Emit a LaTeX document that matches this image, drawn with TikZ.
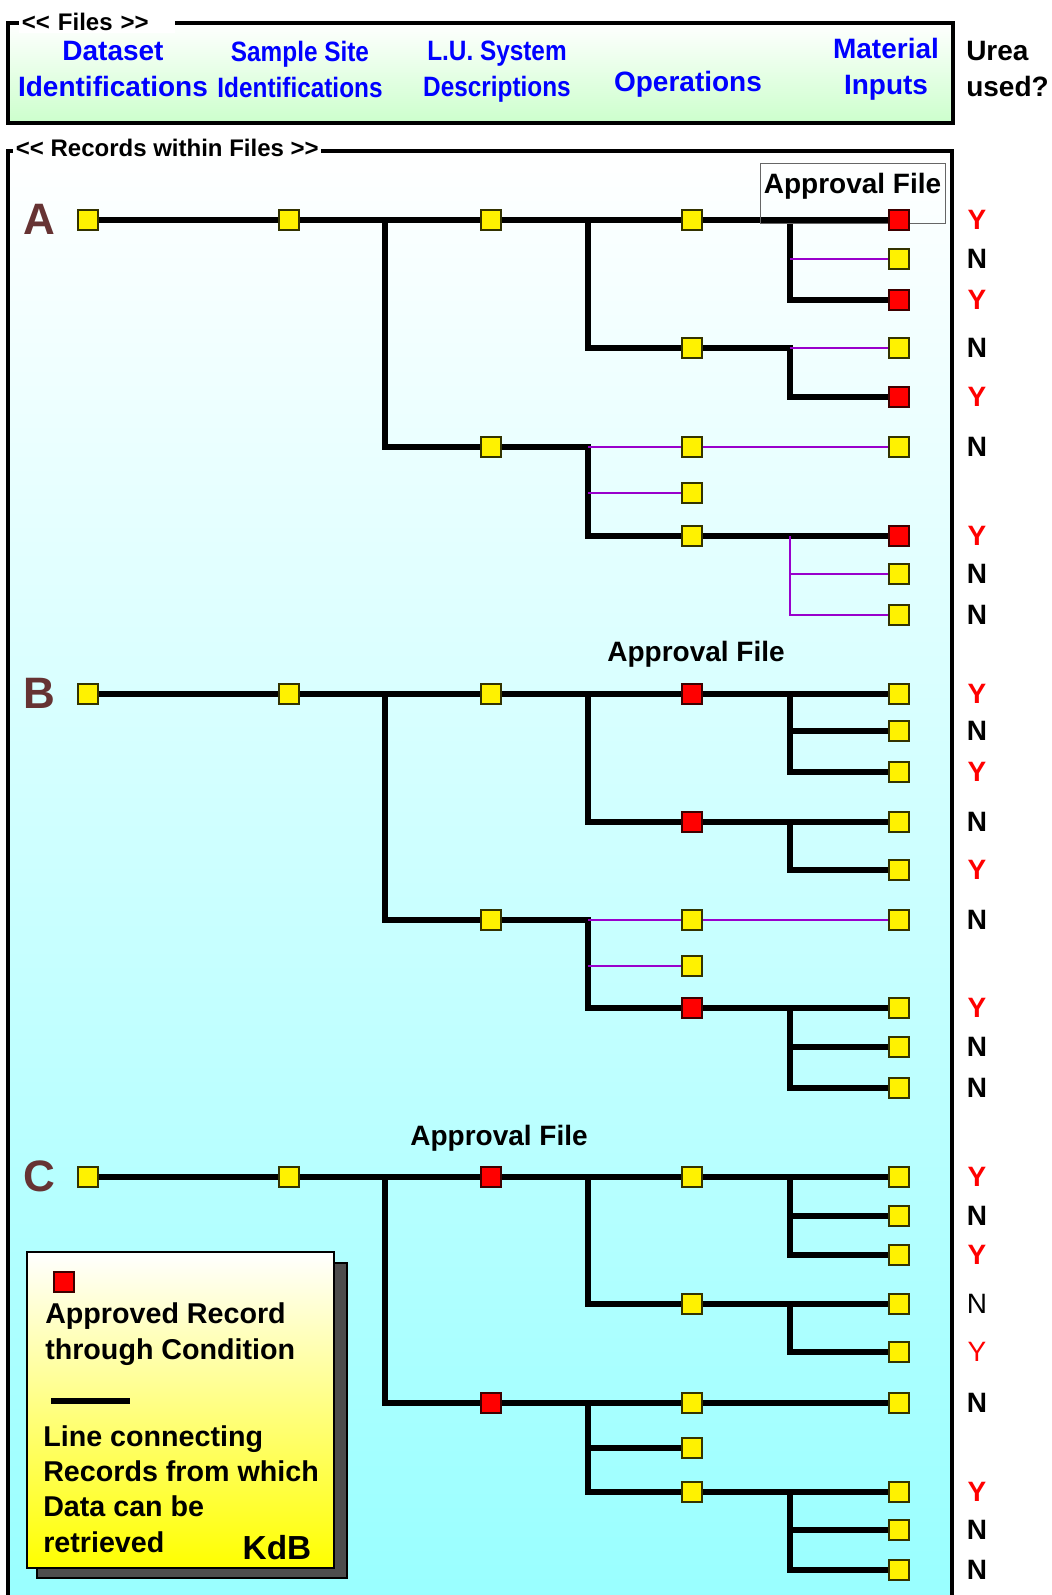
\documentclass[tikz,border=0pt]{standalone}
\usepackage{fontspec}
\setmainfont{Liberation Sans}
\newfontfamily\narrowfont[FakeStretch=0.87]{Liberation Sans}
\usetikzlibrary{backgrounds}
\definecolor{headblue}{RGB}{0,0,255}
\definecolor{filegreen}{RGB}{204,255,204}
\definecolor{reccyan}{RGB}{153,255,255}
\definecolor{letterbrown}{RGB}{102,51,51}
\definecolor{weakpurple}{RGB}{153,0,204}
\definecolor{shadowgray}{RGB}{77,77,77}
\definecolor{yelborder}{RGB}{51,51,0}
\definecolor{redborder}{RGB}{60,0,0}
\tikzstyle{rec}=[draw=yelborder,fill=yellow,line width=1pt,inner sep=0pt,minimum size=15pt]
\tikzstyle{apprec}=[rec,draw=redborder,fill=red]
\tikzstyle{link}=[line width=5.2pt]
\tikzstyle{weak}=[weakpurple,line width=1.5pt]
\tikzstyle{filehead}=[headblue,font=\fontsize{21}{27}\selectfont\bfseries,align=center]
\tikzstyle{narrowhead}=[filehead,font=\narrowfont\fontsize{21}{27}\selectfont\bfseries]
\tikzstyle{boxlabel}=[fill=white,inner sep=2pt,font=\fontsize{18}{20}\selectfont\bfseries]
\tikzstyle{letter}=[letterbrown,font=\fontsize{33}{36}\selectfont\bfseries]
\tikzstyle{apptext}=[font=\fontsize{21}{25}\selectfont\bfseries]
\tikzstyle{yesmark}=[red,font=\fontsize{21}{25}\selectfont\bfseries]
\tikzstyle{nomark}=[font=\fontsize{21}{25}\selectfont\bfseries]
\tikzstyle{keytext}=[align=left,inner sep=0pt,font=\fontsize{21.5}{26.5}\selectfont\bfseries]
\newcommand{\lt}{\textless\kern0pt\textless}
\newcommand{\gt}{\textgreater\kern0pt\textgreater}

\begin{document}
\begin{tikzpicture}[x=0.75pt,y=-0.75pt]
        \useasboundingbox (0,0) rectangle (1051,1595);
        \coordinate (xa) at (385,0);
        \coordinate (xb) at (588,0);
        \coordinate (xc) at (790,0);
        \coordinate (ucol) at (977,0);

        % the two boxes
        \begin{scope}[on background layer]
          \shade[top color=white,bottom color=filegreen] (8,23) rectangle (953,123);
          \draw[line width=3pt] (8,23) rectangle (953,123);
          \shade[top color=white,bottom color=reccyan] (8,151) rectangle (952,1600);
          \draw[line width=3.5pt] (8,1600) -- (8,151) -- (952,151) -- (952,1600);
        \end{scope}

        \node[boxlabel,anchor=west,text width=113pt,align=left] (fileslabel) at (19,22) {\lt\ Files \gt};
        \node[boxlabel,anchor=west] (reclabel) at (13,148) {\lt\ Records within Files \gt};

        \node[filehead] (dataset) at (113,69) {Dataset\\Identifications};
        \node[narrowhead] (site) at (300,69) {Sample Site\\Identifications};
        \node[narrowhead] (lusys) at (497,72) {L.U. System\\Descriptions};
        \node[filehead] (oper) at (688,84) {Operations};
        \node[filehead] (matin) at (886,69) {Material\\Inputs};
        \node[filehead,black,align=left,anchor=west,inner xsep=0pt] (urea) at (966,69) {Urea\\used?};

        \node[letter] (secA) at (39,219) {A};
        \node[letter] (secB) at (39,693) {B};
        \node[letter] (secC) at (39,1176) {C};

        \node[apptext,draw=gray!80!black,thin,inner xsep=3pt,inner ysep=0pt,text height=22.5pt,text depth=23pt,anchor=base] (apprA) at (852.5,193) {Approval File};
        \node[apptext] (apprB) at (696,654) {Approval File};
        \node[apptext] (apprC) at (499,1138) {Approval File};

        % section A
        \node[rec] (a1c1) at (88,220) {};
        \node[rec] (a1c2) at (289,220) {};
        \node[rec] (a1c3) at (491,220) {};
        \node[rec] (a1c4) at (692,220) {};
        \node[apprec] (a1c5) at (899,220) {};
        \node[rec] (a2c5) at (899,259) {};
        \node[apprec] (a3c5) at (899,300) {};
        \node[rec] (a4c4) at (692,348) {};
        \node[rec] (a4c5) at (899,348) {};
        \node[apprec] (a5c5) at (899,397) {};
        \node[rec] (a6c3) at (491,447) {};
        \node[rec] (a6c4) at (692,447) {};
        \node[rec] (a6c5) at (899,447) {};
        \node[rec] (a7c4) at (692,493) {};
        \node[rec] (a8c4) at (692,536) {};
        \node[apprec] (a8c5) at (899,536) {};
        \node[rec] (a9c5) at (899,574) {};
        \node[rec] (a10c5) at (899,615) {};

        % section B
        \node[rec] (b1c1) at (88,694) {};
        \node[rec] (b1c2) at (289,694) {};
        \node[rec] (b1c3) at (491,694) {};
        \node[apprec] (b1c4) at (692,694) {};
        \node[rec] (b1c5) at (899,694) {};
        \node[rec] (b2c5) at (899,731) {};
        \node[rec] (b3c5) at (899,772) {};
        \node[apprec] (b4c4) at (692,822) {};
        \node[rec] (b4c5) at (899,822) {};
        \node[rec] (b5c5) at (899,870) {};
        \node[rec] (b6c3) at (491,920) {};
        \node[rec] (b6c4) at (692,920) {};
        \node[rec] (b6c5) at (899,920) {};
        \node[rec] (b7c4) at (692,966) {};
        \node[apprec] (b8c4) at (692,1008) {};
        \node[rec] (b8c5) at (899,1008) {};
        \node[rec] (b9c5) at (899,1047) {};
        \node[rec] (b10c5) at (899,1088) {};

        % section C
        \node[rec] (c1c1) at (88,1177) {};
        \node[rec] (c1c2) at (289,1177) {};
        \node[apprec] (c1c3) at (491,1177) {};
        \node[rec] (c1c4) at (692,1177) {};
        \node[rec] (c1c5) at (899,1177) {};
        \node[rec] (c2c5) at (899,1216) {};
        \node[rec] (c3c5) at (899,1255) {};
        \node[rec] (c4c4) at (692,1304) {};
        \node[rec] (c4c5) at (899,1304) {};
        \node[rec] (c5c5) at (899,1352) {};
        \node[apprec] (c6c3) at (491,1403) {};
        \node[rec] (c6c4) at (692,1403) {};
        \node[rec] (c6c5) at (899,1403) {};
        \node[rec] (c7c4) at (692,1448) {};
        \node[rec] (c8c4) at (692,1492) {};
        \node[rec] (c8c5) at (899,1492) {};
        \node[rec] (c9c5) at (899,1530) {};
        \node[rec] (c10c5) at (899,1570) {};

        % urea used?
        \node[yesmark] (ua1) at (a1c5 -| ucol) {Y};
        \node[nomark] (ua2) at (a2c5 -| ucol) {N};
        \node[yesmark] (ua3) at (a3c5 -| ucol) {Y};
        \node[nomark] (ua4) at (a4c5 -| ucol) {N};
        \node[yesmark] (ua5) at (a5c5 -| ucol) {Y};
        \node[nomark] (ua6) at (a6c5 -| ucol) {N};
        \node[yesmark] (ua8) at (a8c5 -| ucol) {Y};
        \node[nomark] (ua9) at (a9c5 -| ucol) {N};
        \node[nomark] (ua10) at (a10c5 -| ucol) {N};

        \node[yesmark] (ub1) at (b1c5 -| ucol) {Y};
        \node[nomark] (ub2) at (b2c5 -| ucol) {N};
        \node[yesmark] (ub3) at (b3c5 -| ucol) {Y};
        \node[nomark] (ub4) at (b4c5 -| ucol) {N};
        \node[yesmark] (ub5) at (b5c5 -| ucol) {Y};
        \node[nomark] (ub6) at (b6c5 -| ucol) {N};
        \node[yesmark] (ub8) at (b8c5 -| ucol) {Y};
        \node[nomark] (ub9) at (b9c5 -| ucol) {N};
        \node[nomark] (ub10) at (b10c5 -| ucol) {N};

        \node[yesmark] (uc1) at (c1c5 -| ucol) {Y};
        \node[nomark] (uc2) at (c2c5 -| ucol) {N};
        \node[yesmark] (uc3) at (c3c5 -| ucol) {Y};
        \node[nomark,font=\fontsize{21}{25}\selectfont] (uc4) at (c4c5 -| ucol) {N};
        \node[yesmark,font=\fontsize{21}{25}\selectfont] (uc5) at (c5c5 -| ucol) {Y};
        \node[nomark] (uc6) at (c6c5 -| ucol) {N};
        \node[yesmark] (uc8) at (c8c5 -| ucol) {Y};
        \node[nomark] (uc9) at (c9c5 -| ucol) {N};
        \node[nomark] (uc10) at (c10c5 -| ucol) {N};

        % key
        \fill[draw=black,line width=1.5pt,fill=shadowgray] (37,1263) rectangle (347,1578);
        \shadedraw[top color=white,bottom color=yellow,draw=black,line width=1.5pt] (27,1252) rectangle (334,1568);
        \node[apprec] (keyrec) at (64,1282) {};
        \node[keytext,anchor=west] (keyrectext) at (45,1334) {Approved Record\\through Condition};
        \coordinate (keyl) at (51,1401);
        \coordinate (keyr) at (130,1401);
        \draw[link] (keyl) -- (keyr);
        \node[keytext,anchor=west] (keylinetext) at (43,1489) {Line connecting\\Records from which\\Data can be\\retrieved};
        \node[font=\fontsize{25}{30}\selectfont\bfseries] (kdb) at (277,1548) {KdB};

        \begin{scope}[on background layer]
          \draw[link] (a1c1) -- (a1c2) -- (a1c3) -- (a1c4) -- (a1c5);
          \draw[link] (a1c1 -| xc) |- (a3c5);
          \draw[link] (a1c1 -| xb) |- (a4c4) -- (a4c4 -| xc) |- (a5c5);
          \draw[link] (a1c1 -| xa) |- (a6c3) -- (a6c3 -| xb) |- (a8c4) -- (a8c5);
          \draw[weak] (a2c5 -| xc) -- (a2c5);
          \draw[weak] (a4c4 -| xc) -- (a4c5);
          \draw[weak] (a6c3 -| xb) -- (a6c4) -- (a6c5);
          \draw[weak] (a7c4 -| xb) -- (a7c4);
          \draw[weak] (a8c4 -| xc) |- (a9c5);
          \draw[weak] (a8c4 -| xc) |- (a10c5);

          \draw[link] (b1c1) -- (b1c2) -- (b1c3) -- (b1c4) -- (b1c5);
          \draw[link] (b1c1 -| xc) |- (b2c5);
          \draw[link] (b1c1 -| xc) |- (b3c5);
          \draw[link] (b1c1 -| xb) |- (b4c4) -- (b4c5);
          \draw[link] (b4c4 -| xc) |- (b5c5);
          \draw[link] (b1c1 -| xa) |- (b6c3) -- (b6c3 -| xb) |- (b8c4) -- (b8c5);
          \draw[link] (b8c4 -| xc) |- (b9c5);
          \draw[link] (b8c4 -| xc) |- (b10c5);
          \draw[weak] (b6c3 -| xb) -- (b6c4) -- (b6c5);
          \draw[weak] (b7c4 -| xb) -- (b7c4);

          \draw[link] (c1c1) -- (c1c2) -- (c1c3) -- (c1c4) -- (c1c5);
          \draw[link] (c1c1 -| xc) |- (c2c5);
          \draw[link] (c1c1 -| xc) |- (c3c5);
          \draw[link] (c1c1 -| xb) |- (c4c4) -- (c4c5);
          \draw[link] (c4c4 -| xc) |- (c5c5);
          \draw[link] (c1c1 -| xa) |- (c6c3) -- (c6c4) -- (c6c5);
          \draw[link] (c6c3 -| xb) |- (c7c4);
          \draw[link] (c6c3 -| xb) |- (c8c4) -- (c8c5);
          \draw[link] (c8c4 -| xc) |- (c9c5);
          \draw[link] (c8c4 -| xc) |- (c10c5);
        \end{scope}
      \end{tikzpicture}
\end{document}
